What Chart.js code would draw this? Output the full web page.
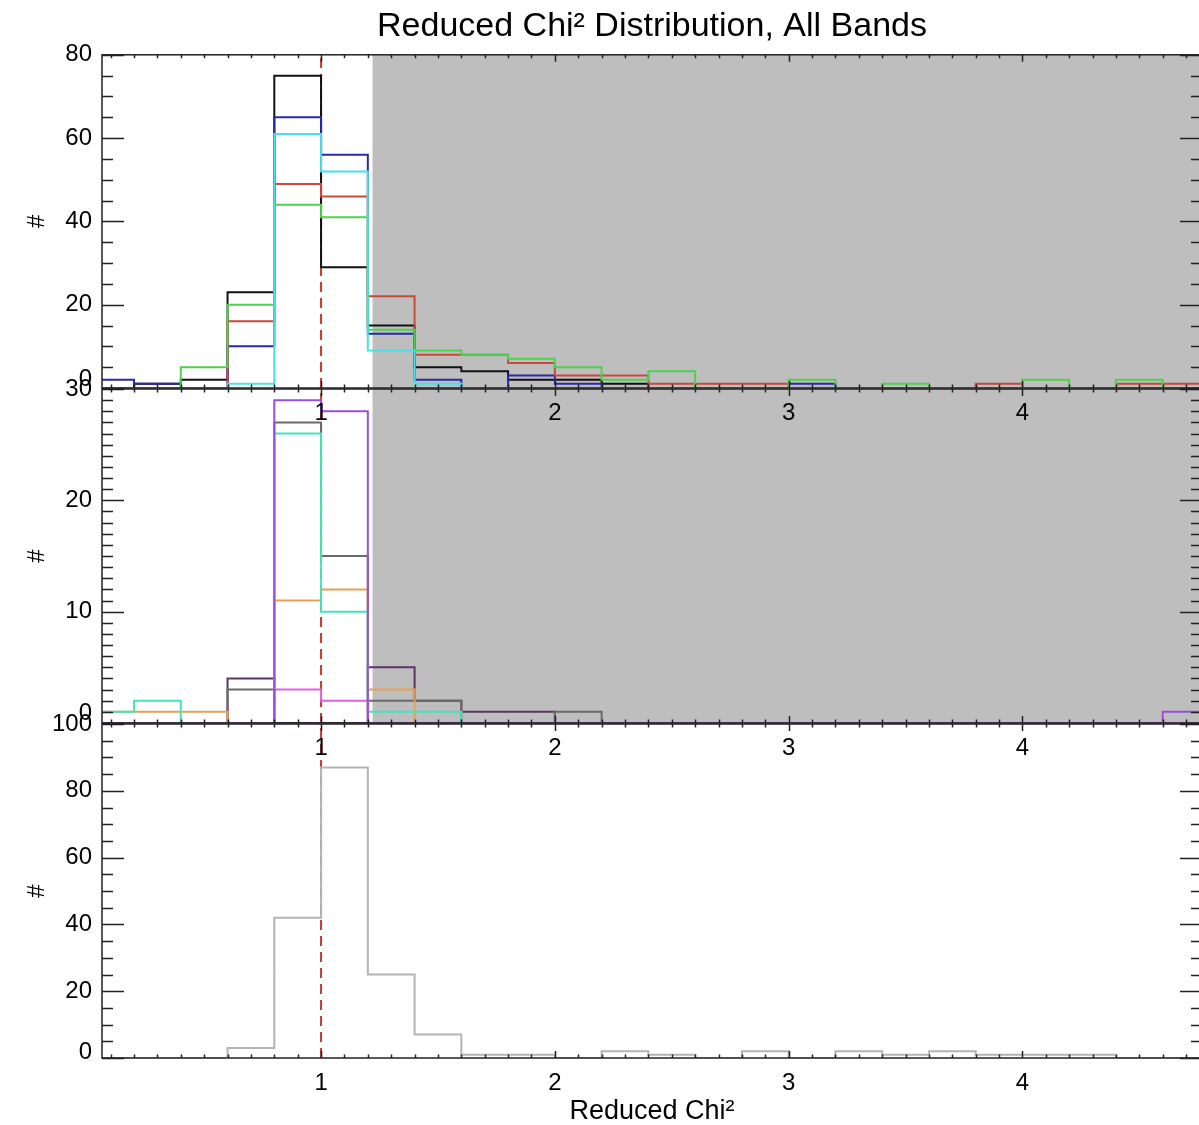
<!DOCTYPE html>
<html>
<head>
<meta charset="utf-8">
<script src="https://cdn.jsdelivr.net/npm/chart.js@4.4.1/dist/chart.umd.min.js"></script>
<style>
  html, body { margin: 0; padding: 0; background: #fff; overflow: hidden; }
  #wrap { position: relative; width: 1199px; height: 1125px; overflow: hidden; }
  #wrap canvas { position: absolute; left: 0; top: 0; }
</style>
</head>
<body>
<div id="wrap">
  <canvas id="chartBottom" width="1203" height="1125"></canvas>
  <canvas id="chartMiddle" width="1203" height="1125"></canvas>
  <canvas id="chartTop" width="1203" height="1125"></canvas>
</div>
<script>
// bin edges (width 0.2)
const binEdges = [0.0, 0.2, 0.4, 0.6, 0.8, 1.0, 1.2, 1.4, 1.6, 1.8, 2.0, 2.2, 2.4,
                  2.6, 2.8, 3.0, 3.2, 3.4, 3.6, 3.8, 4.0, 4.2, 4.4, 4.6, 4.8];

// top panel
const topBlack = [0, 1, 2, 23, 75, 29, 15, 5, 4, 2, 2, 1, 0, 0, 0, 0, 0, 0, 0, 0, 0, 0, 0, 0];
const topBlue  = [2, 1, 0, 10, 65, 56, 13, 2, 0, 3, 1, 0, 0, 0, 0, 1, 0, 0, 0, 0, 0, 0, 0, 0];
const topRed   = [0, 0, 0, 16, 49, 46, 22, 8, 8, 6, 3, 3, 1, 1, 1, 0, 0, 0, 0, 1, 0, 0, 1, 1];
const topGreen = [0, 0, 5, 20, 44, 41, 14, 9, 8, 7, 5, 2, 4, 0, 0, 2, 0, 1, 0, 0, 2, 0, 2, 0];
const topCyan  = [0, 0, 0, 1, 61, 52, 9, 1, 0, 0, 0, 0, 0, 0, 0, 0, 0, 0, 0, 0, 0, 0, 0, 0];

// middle panel
const midPurple  = [0, 0, 0, 0, 29, 28, 0, 0, 0, 0, 0, 0, 0, 0, 0, 0, 0, 0, 0, 0, 0, 0, 0, 1];
const midPlum    = [0, 0, 0, 4, 0, 0, 5, 2, 1, 1, 0, 0, 0, 0, 0, 0, 0, 0, 0, 0, 0, 0, 0, 0];
const midMagenta = [0, 0, 0, 0, 3, 2, 0, 0, 0, 0, 0, 0, 0, 0, 0, 0, 0, 0, 0, 0, 0, 0, 0, 0];
const midGray    = [0, 0, 0, 3, 27, 15, 2, 2, 0, 0, 1, 0, 0, 0, 0, 0, 0, 0, 0, 0, 0, 0, 0, 0];
const midTeal    = [1, 2, 0, 0, 26, 10, 1, 1, 0, 0, 0, 0, 0, 0, 0, 0, 0, 0, 0, 0, 0, 0, 0, 0];
const midOrange  = [1, 1, 1, 0, 11, 12, 3, 0, 0, 0, 0, 0, 0, 0, 0, 0, 0, 0, 0, 0, 0, 0, 0, 0];

// bottom panel
const botGray = [0, 0, 0, 3, 42, 87, 25, 7, 1, 1, 0, 2, 1, 0, 2, 0, 2, 1, 2, 1, 1, 1, 0, 0];

const xMin = 0.063, xMax = 4.768;
const chiRef = 1.0;      // red dashed line
const shadeFrom = 1.22;  // grey region start

const FONT = "'Liberation Sans', Arial, Helvetica, sans-serif";

// histogram outline points
function steps(vals) {
  const pts = vals.map((v, i) => ({ x: binEdges[i], y: v }));
  pts.push({ x: binEdges[vals.length], y: vals[vals.length - 1] });
  return pts;
}

function histSet(vals, color) {
  return {
    data: steps(vals),
    borderColor: color,
    borderWidth: 2,
    stepped: 'before',
    pointRadius: 0,
    fill: false
  };
}

function dashSet(yMax) {
  return {
    data: [{ x: chiRef, y: 0 }, { x: chiRef, y: yMax }],
    borderColor: '#c03a32',
    borderWidth: 2,
    borderDash: [10, 6],
    pointRadius: 0,
    fill: false
  };
}

// IDL style frame: grey shade, box and inward ticks
const idlFrame = {
  id: 'idlFrame',
  beforeDatasetsDraw(chart, args, opts) {
    const { ctx, chartArea: a, scales: { x } } = chart;
    if (opts.shade) {
      const px = x.getPixelForValue(shadeFrom);
      ctx.save();
      ctx.fillStyle = '#bebebe';
      ctx.fillRect(px, a.top, a.right - px, a.bottom - a.top);
      ctx.restore();
    }
  },
  afterDatasetsDraw(chart, args, opts) {
    const { ctx, chartArea: a, scales: { x, y } } = chart;
    ctx.save();
    ctx.strokeStyle = '#222';
    ctx.lineWidth = 1.5;
    ctx.strokeRect(a.left, a.top, a.right - a.left, a.bottom - a.top);
    ctx.beginPath();
    x.ticks.forEach(t => {
      const px = Math.round(x.getPixelForValue(t.value)) + 0.5;
      const major = Math.abs(t.value - Math.round(t.value)) < 1e-6;
      const len = major ? 7 : 3.5;
      ctx.moveTo(px, a.bottom); ctx.lineTo(px, a.bottom - len);
      ctx.moveTo(px, a.top); ctx.lineTo(px, a.top + len);
    });
    y.ticks.forEach(t => {
      const py = Math.round(y.getPixelForValue(t.value)) + 0.5;
      const major = t.value % opts.yMajor === 0;
      const len = major ? 22 : 11;
      ctx.moveTo(a.left, py); ctx.lineTo(a.left + len, py);
      ctx.moveTo(a.right, py); ctx.lineTo(a.right - len, py);
    });
    ctx.stroke();
    ctx.restore();
  }
};

function makeChart(id, cfg) {
  const ctx = document.getElementById(id).getContext('2d');
  return new Chart(ctx, {
    type: 'line',
    data: { datasets: cfg.datasets },
    plugins: [idlFrame],
    options: {
      responsive: false,
      animation: false,
      devicePixelRatio: 1,
      layout: { padding: { top: cfg.padTop, bottom: cfg.padBottom, left: 0, right: 1 } },
      plugins: {
        legend: { display: false },
        tooltip: { enabled: false },
        title: cfg.title || { display: false },
        idlFrame: { shade: cfg.shade, yMajor: cfg.yMajor }
      },
      scales: {
        x: {
          type: 'linear',
          min: xMin,
          max: xMax,
          grid: { display: false, drawTicks: false },
          border: { display: false },
          ticks: {
            stepSize: 0.1,
            includeBounds: false,
            autoSkip: false,
            maxRotation: 0,
            padding: 11,
            color: '#000',
            font: { family: FONT, size: 24 },
            callback: v => Math.abs(v - Math.round(v)) < 1e-6 ? String(Math.round(v)) : ''
          },
          title: cfg.xTitle || { display: false },
          afterFit: s => { s.height = cfg.xHeight; }
        },
        y: {
          min: 0,
          max: cfg.yMax,
          grid: { display: false, drawTicks: false },
          border: { display: false },
          ticks: {
            stepSize: cfg.yStep,
            includeBounds: false,
            autoSkip: false,
            padding: 10,
            color: '#000',
            // the "0" label sits a little above its axis, as in the original
            font: c => ({
              family: FONT,
              size: 24,
              lineHeight: c.tick && c.tick.value === 0 ? (2 * cfg.zeroShift) / 24 : 1.2
            }),
            callback: v => v === 0 ? ['0', ''] : (v % cfg.yMajor === 0 ? String(v) : '')
          },
          title: {
            display: true,
            text: '#',
            color: '#000',
            font: { family: FONT, size: 24 },
            padding: { top: 23, bottom: 0 }
          },
          afterFit: s => { s.width = 102; }
        }
      }
    }
  });
}

// bottom panel first, top panel is stacked above
makeChart('chartBottom', {
  datasets: [histSet(botGray, '#b4b4b4'), dashSet(100)],
  padTop: 724, padBottom: 0, xHeight: 67,
  yMax: 100, yStep: 5, yMajor: 20, zeroShift: 6, shade: false,
  xTitle: {
    display: true,
    text: 'Reduced Chi²',
    color: '#000',
    font: { family: FONT, size: 27, lineHeight: 1.0 },
    padding: { top: 0, bottom: 0 }
  }
});

makeChart('chartMiddle', {
  datasets: [
    histSet(midPurple, '#9b4fd6'),
    histSet(midMagenta, '#e060e0'),
    histSet(midTeal, '#45e3c0'),
    histSet(midOrange, '#e8a050'),
    histSet(midGray, '#6a6a6a'),
    histSet(midPlum, '#5c3566'),
    dashSet(30)
  ],
  padTop: 389, padBottom: 1125 - 723 - 40, xHeight: 40,
  yMax: 30, yStep: 1, yMajor: 10, zeroShift: 10, shade: true
});

makeChart('chartTop', {
  datasets: [
    histSet(topCyan, '#48e0e8'),
    histSet(topGreen, '#4cd24c'),
    histSet(topRed, '#c84a3c'),
    histSet(topBlue, '#2828a8'),
    histSet(topBlack, '#111111'),
    dashSet(80)
  ],
  padTop: 0, padBottom: 1125 - 388 - 40, xHeight: 40,
  yMax: 80, yStep: 5, yMajor: 20, zeroShift: 9, shade: true,
  title: {
    display: true,
    text: 'Reduced Chi² Distribution, All Bands',
    color: '#000',
    fullSize: false,
    font: { family: FONT, size: 34, weight: 'normal', lineHeight: 1.2 },
    padding: { top: 6, bottom: 8 }
  }
});
</script>
</body>
</html>
